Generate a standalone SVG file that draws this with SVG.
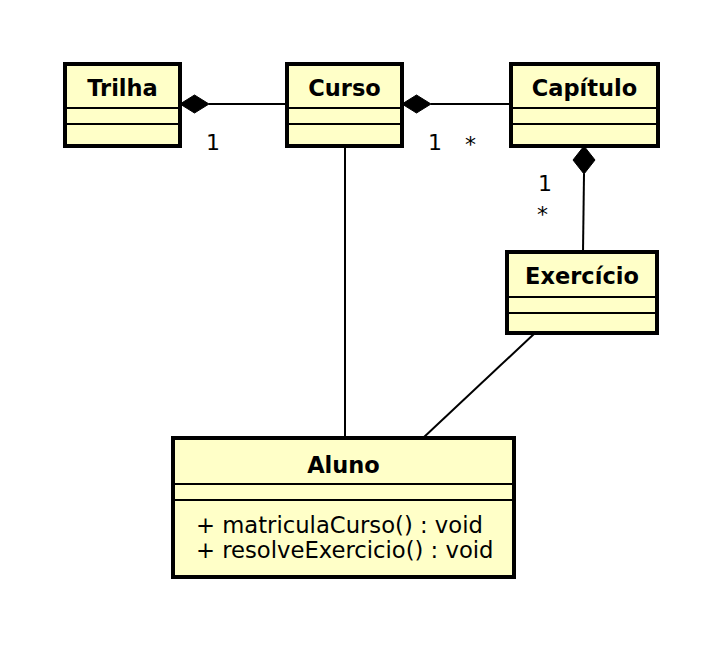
<svg xmlns="http://www.w3.org/2000/svg" width="714" height="672" viewBox="0 0 714 672">
<style>
.box{fill:#ffffc8;stroke:#000;stroke-width:4}
.sep{stroke:#000;stroke-width:2}
.title{font-family:"DejaVu Sans",sans-serif;font-weight:bold;font-size:22.5px;text-anchor:middle}
.body{font-family:"DejaVu Sans",sans-serif;font-size:22.7px}
.lbl{font-family:"DejaVu Sans",sans-serif;font-size:22px}
.ln{stroke:#000;stroke-width:2;fill:none}
.dia{fill:#000;stroke:#000;stroke-width:1}
</style>
<rect width="714" height="672" fill="#fff"/>
<g id="connectors">
<line class="ln" x1="209" y1="104" x2="287" y2="104"/>
<polygon class="dia" points="180,104 194.5,95 209,104 194.5,113"/>
<line class="ln" x1="431" y1="104" x2="511" y2="104"/>
<polygon class="dia" points="402,104 416.5,95 431,104 416.5,113"/>
<line class="ln" x1="584" y1="174" x2="583" y2="252"/>
<polygon class="dia" points="584,146 595,160 584,174 573,160"/>
<line class="ln" x1="345" y1="146" x2="345" y2="438"/>
<line class="ln" x1="535" y1="333" x2="423" y2="438"/>
<text class="lbl" x="206" y="150">1</text>
<text class="lbl" x="428" y="150">1</text>
<text class="lbl" x="465" y="152">*</text>
<text class="lbl" x="538" y="191">1</text>
<text class="lbl" x="537" y="222">*</text>
</g>
<g id="Trilha">
<rect class="box" x="65" y="64" width="115" height="82"/>
<line class="sep" x1="65" y1="108" x2="180" y2="108"/>
<line class="sep" x1="65" y1="124" x2="180" y2="124"/>
<text class="title" x="122.5" y="95.5">Trilha</text>
</g>
<g id="Curso">
<rect class="box" x="287" y="64" width="115" height="82"/>
<line class="sep" x1="287" y1="108" x2="402" y2="108"/>
<line class="sep" x1="287" y1="124" x2="402" y2="124"/>
<text class="title" x="344.5" y="95.5">Curso</text>
</g>
<g id="Capitulo">
<rect class="box" x="511" y="64" width="147" height="82"/>
<line class="sep" x1="511" y1="108" x2="658" y2="108"/>
<line class="sep" x1="511" y1="124" x2="658" y2="124"/>
<text class="title" x="584.5" y="95.5">Capítulo</text>
</g>
<g id="Exercicio">
<rect class="box" x="507" y="252" width="150" height="81"/>
<line class="sep" x1="507" y1="297" x2="657" y2="297"/>
<line class="sep" x1="507" y1="313" x2="657" y2="313"/>
<text class="title" x="582" y="283.5">Exercício</text>
</g>
<g id="Aluno">
<rect class="box" x="173" y="438" width="341" height="139"/>
<line class="sep" x1="173" y1="484" x2="514" y2="484"/>
<line class="sep" x1="173" y1="500" x2="514" y2="500"/>
<text class="title" x="343.5" y="472.5">Aluno</text>
<text class="body" x="196" y="533">+ matriculaCurso() : void</text>
<text class="body" x="196" y="558">+ resolveExercicio() : void</text>
</g>
</svg>
